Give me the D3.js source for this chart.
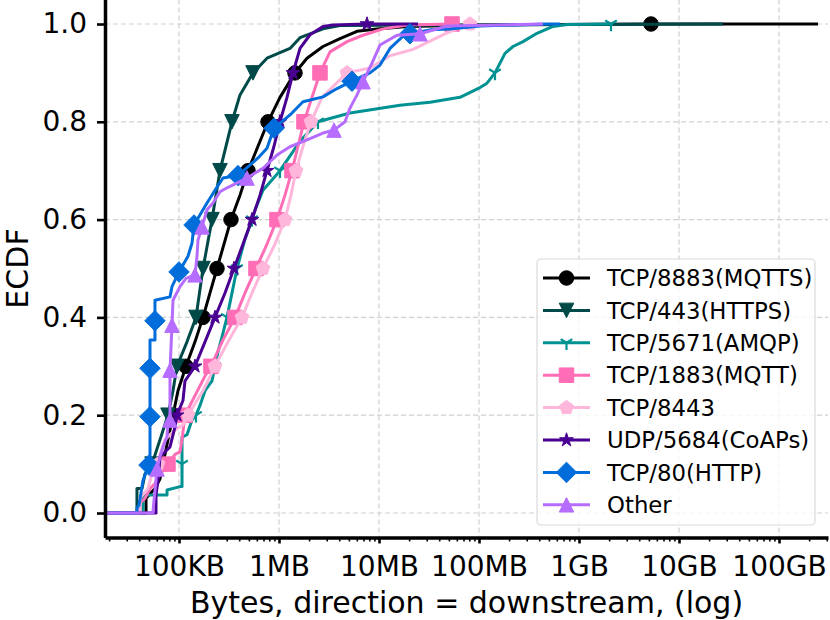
<!DOCTYPE html>
<html>
<head>
<meta charset="utf-8">
<script src="https://cdn.jsdelivr.net/npm/d3@7"></script>
<style>
  body { margin: 0; background: #fff; }
</style>
</head>
<body>
<div id="chart"></div>
<script>
// x values are in KB (1 MB = 1000 KB), y values are the ECDF
var categories = ['TCP/8883(MQTTS)', 'TCP/443(HTTPS)', 'TCP/5671(AMQP)', 'TCP/1883(MQTT)',
                  'TCP/8443', 'UDP/5684(CoAPs)', 'TCP/80(HTTP)', 'Other'];

var ecdf_mqtts = [[18.2,0],[46.8,0],[46.8,0.03],[57.5,0.05],[64.6,0.07],[69.2,0.1],[74.1,0.13],[87.1,0.2],
    [97.7,0.25],[117.5,0.3],[144.5,0.35],[173.8,0.4],[204.2,0.45],[239.9,0.5],[281.8,0.55],[331.1,0.6],
    [407.4,0.65],[489.8,0.7],[616.6,0.75],[776.2,0.8],[1023,0.85],[1445,0.9],[1905,0.93],[2754,0.954],
    [4074,0.97],[6026,0.985],[9550,0.99],[19055,0.995],[102329,0.998],[5248000,1],[245500000,1]];
var marks_mqtts = [0.1,0.2,0.3,0.4,0.5,0.6,0.7,0.8,0.9,1];

var ecdf_https = [[18.2,0],[38,0],[38,0.05],[42.7,0.05],[45.7,0.08],[53.7,0.1],[64.6,0.15],[77.6,0.2],
    [87.1,0.25],[95.5,0.3],[120.2,0.35],[147.9,0.4],[173.8,0.5],[213.8,0.6],[257,0.7],[338.8,0.8],
    [407.4,0.855],[549.5,0.9],[758.6,0.93],[1288,0.95],[1622,0.972],[2042,0.98],[2754,0.99],[4074,0.997],
    [27540000,1]];
var marks_https = [0.1,0.2,0.3,0.4,0.5,0.6,0.7,0.8,0.9];

var ecdf_amqp = [[18.2,0],[43.7,0],[43.7,0.037],[75.9,0.037],[75.9,0.047],[102.3,0.054],[107.2,0.054],
    [107.2,0.1],[107.2,0.155],[120.2,0.16],[134.9,0.19],[147.9,0.2],[162.2,0.22],[182,0.25],[213.8,0.27],
    [229.1,0.3],[245.5,0.33],[269.2,0.36],[302,0.4],[380.2,0.5],[457.1,0.56],[537,0.6],[575.4,0.62],
    [691.8,0.66],[1023,0.7],[1622,0.76],[2455,0.8],[5129,0.818],[16218,0.834],[32359,0.84],[64565,0.85],
    [102329,0.87],[120226,0.879],[144544,0.9],[181970,0.94],[218776,0.954],[275423,0.964],[380189,0.981],
    [549541,0.995],[758578,0.999],[2089000,1],[2188000,1]];
var marks_amqp = [0.1,0.2,0.3,0.4,0.5,0.6,0.7,0.8,0.9,1];

var ecdf_mqtt = [[18.2,0],[40.7,0],[40.7,0.02],[45.7,0.03],[51.3,0.05],[57.5,0.06],[64.6,0.08],[72.4,0.09],
    [77.6,0.1],[91.2,0.12],[102.3,0.125],[107.2,0.15],[114.8,0.2],[144.5,0.24],[182,0.28],[208.9,0.3],
    [269.2,0.35],[363.1,0.4],[457.1,0.45],[588.8,0.5],[758.6,0.55],[955,0.6],[1148,0.65],[1349,0.7],
    [1549,0.75],[1778,0.8],[2138,0.85],[2570,0.9],[3236,0.943],[4786,0.964],[6918,0.977],[10965,0.99],
    [19055,0.998],[53703,1],[57544,1]];
var marks_mqtt = [0.1,0.2,0.3,0.4,0.5,0.6,0.7,0.8,0.9,1];

var ecdf_8443 = [[18.2,0],[40.7,0],[40.7,0.03],[49,0.05],[53.7,0.08],[61.7,0.1],[64.6,0.12],[72.4,0.15],
    [91.2,0.17],[109.6,0.18],[123,0.2],[173.8,0.25],[229.1,0.3],[309,0.35],[426.6,0.4],[537,0.45],
    [691.8,0.5],[912,0.55],[1148,0.6],[1318,0.65],[1479,0.7],[1738,0.75],[2089,0.8],[2692,0.85],[4786,0.9],
    [8128,0.91],[12882,0.935],[21878,0.948],[33884,0.967],[45709,0.98],[60256,0.99],[81283,1],[93325,1]];
var marks_8443 = [0.1,0.2,0.3,0.4,0.5,0.6,0.7,0.8,0.9,1];

var ecdf_coaps = [[18.2,0],[58.9,0],[58.9,0.037],[61.7,0.067],[64.6,0.115],[81.3,0.135],[91.2,0.176],
    [95.5,0.2],[109.6,0.23],[114.8,0.27],[144.5,0.3],[182,0.35],[229.1,0.4],[288.4,0.45],[354.8,0.5],
    [436.5,0.55],[537,0.6],[645.7,0.65],[758.6,0.7],[891.3,0.75],[1023,0.8],[1202,0.85],[1380,0.9],
    [1622,0.95],[2042,0.978],[2754,0.995],[3467,0.998],[7586,1],[24547,1]];
var marks_coaps = [0.2,0.3,0.4,0.5,0.6,0.7,0.8,0.9,1];

var ecdf_http = [[18.2,0],[38,0],[38,0.01],[39.8,0.016],[43.7,0.067],[47.9,0.088],[50.1,0.098],[51.3,0.105],
    [51.3,0.197],[51.3,0.296],[51.3,0.354],[57.5,0.354],[57.5,0.393],[57.5,0.435],[81.3,0.442],[85.1,0.463],
    [100,0.493],[123,0.525],[134.9,0.552],[141.3,0.589],[190.5,0.634],[229.1,0.66],[275.4,0.685],[389,0.69],
    [616.6,0.726],[758.6,0.746],[891.3,0.787],[1288,0.814],[1738,0.841],[2754,0.851],[3802,0.868],
    [5370,0.883],[8128,0.9],[10233,0.916],[12882,0.95],[17378,0.975],[20417,0.98],[32359,0.988],
    [51286,0.99],[102329,0.996],[478630,1],[645654,1]];
var marks_http = [0.098,0.197,0.296,0.393,0.493,0.589,0.69,0.787,0.883,0.98];

var ecdf_other = [[18.2,0],[55,0],[55,0.005],[57.5,0.045],[60.3,0.09],[64.6,0.115],[69.2,0.135],[75.9,0.156],
    [77.6,0.184],[81.3,0.19],[81.3,0.292],[85.1,0.384],[87.1,0.435],[102.3,0.463],[117.5,0.48],[144.5,0.487],
    [151.4,0.525],[154.9,0.558],[169.8,0.585],[190.5,0.62],[218.8,0.634],[257,0.657],[302,0.665],
    [478.6,0.685],[691.8,0.705],[955,0.732],[1288,0.749],[1905,0.763],[2754,0.777],[3548,0.783],
    [4571,0.8],[5129,0.828],[6026,0.855],[6918,0.882],[8511,0.92],[10233,0.957],[15136,0.977],
    [25704,0.98],[47863,0.996],[436516,1]];
var marks_other = [0.09,0.19,0.292,0.384,0.487,0.585,0.685,0.783,0.882,0.98];

var x_major = [100, 1e3, 1e4, 1e5, 1e6, 1e7, 1e8];
var x_labels = ['100KB', '1MB', '10MB', '100MB', '1GB', '10GB', '100GB'];
var y_ticks = [0, 0.2, 0.4, 0.6, 0.8, 1.0];
var x_min = 18.2, x_max = 3.09e8;

var curves = [ecdf_mqtts, ecdf_https, ecdf_amqp, ecdf_mqtt, ecdf_8443, ecdf_coaps, ecdf_http, ecdf_other];
var curve_marks = [marks_mqtts, marks_https, marks_amqp, marks_mqtt, marks_8443, marks_coaps, marks_http, marks_other];

// styles
var colors = ['#000000', '#004949', '#009292', '#ff6db6', '#ffb6db', '#490092', '#006ddb', '#b66dff'];
var shapes = ['o', 'v', '1', 's', 'p', '*', 'D', '^'];

var width = 830, height = 620;
var ms = 14.5;
var lw = 3;

var svg = d3.select('#chart')
    .append('svg')
    .attr('width', width)
    .attr('height', height)
    .style('font-family', 'DejaVu Sans, sans-serif');

var x = d3.scaleLog().domain([x_min, x_max]).range([105, 828]);
var y = d3.scaleLinear().domain([-0.05, 1.05]).range([537.45, -0.45]);

// minor ticks 2..9 per decade
var x_minor = [];
for (var e = 1; e <= 8; e++) {
    for (var k = 2; k <= 9; k++) {
        var v = k * Math.pow(10, e);
        if (v >= x_min && v <= x_max) x_minor.push(v);
    }
}

// grid
var grid = svg.append('g').attr('class', 'grid');
grid.selectAll('line.vx')
    .data(x_major)
    .enter()
    .append('line')
    .attr('x1', function(d) { return x(d); })
    .attr('x2', function(d) { return x(d); })
    .attr('y1', y.range()[1])
    .attr('y2', y.range()[0]);
grid.selectAll('line.hy')
    .data(y_ticks)
    .enter()
    .append('line')
    .attr('x1', x.range()[0])
    .attr('x2', x.range()[1])
    .attr('y1', function(d) { return y(d); })
    .attr('y2', function(d) { return y(d); });
grid.selectAll('line')
    .attr('stroke', '#d0d0d0')
    .attr('stroke-width', 1.2)
    .attr('stroke-dasharray', '5,3');

function marker_path(shape, m) {
    var r = m / 2;
    if (shape === 'o') return d3.symbol().type(d3.symbolCircle).size(Math.PI * r * r)();
    if (shape === 'v') return `M0,${r}L${-r},${-r}L${r},${-r}Z`;
    if (shape === '^') return `M0,${-r}L${-r},${r}L${r},${r}Z`;
    if (shape === 's') return `M${-r},${-r}H${r}V${r}H${-r}Z`;
    if (shape === 'D') { var q = r * Math.SQRT2; return `M0,${-q}L${q},0L0,${q}L${-q},0Z`; }
    if (shape === '1') return `M0,0L0,${r}M0,0L${0.8 * r},${-0.5 * r}M0,0L${-0.8 * r},${-0.5 * r}`;
    if (shape === 'p' || shape === '*') {
        var pts = [];
        var n = shape === 'p' ? 5 : 10;
        for (var i = 0; i < n; i++) {
            var a = -Math.PI / 2 + i * 2 * Math.PI / n;
            var rr = (shape === '*' && i % 2 === 1) ? r * 0.381966 : r;
            pts.push([rr * Math.cos(a), rr * Math.sin(a)]);
        }
        return 'M' + pts.map(function(p) { return p[0].toFixed(2) + ',' + p[1].toFixed(2); }).join('L') + 'Z';
    }
}

function style_marker(sel, i) {
    if (shapes[i] === '1') {
        sel.attr('fill', 'none').attr('stroke', colors[i]).attr('stroke-width', 2.2);
    } else {
        sel.attr('fill', colors[i]).attr('stroke', colors[i]).attr('stroke-width', 1);
    }
}

var line = d3.line()
    .x(function(d) { return x(d[0]); })
    .y(function(d) { return y(d[1]); });

var plot = svg.append('g').attr('class', 'curves');

curves.forEach(function(pts, i) {
    var g = plot.append('g');
    g.append('path')
        .datum(pts)
        .attr('d', line)
        .attr('fill', 'none')
        .attr('stroke', colors[i])
        .attr('stroke-width', lw)
        .attr('stroke-linejoin', 'round');

    var marker_pts = curve_marks[i].map(function(lv) {
        return pts.find(function(p) { return Math.abs(p[1] - lv) < 1e-9; });
    });
    g.selectAll('path.mk')
        .data(marker_pts)
        .enter()
        .append('path')
        .attr('class', 'mk')
        .attr('d', marker_path(shapes[i], ms))
        .attr('transform', function(d) { return `translate(${x(d[0])},${y(d[1])})`; })
        .call(style_marker, i);
});

// axes
var x_axis = svg.append('g')
    .attr('transform', `translate(0,${y.range()[0]})`)
    .call(d3.axisBottom(x).tickValues(x_major)
        .tickFormat(function(d, i) { return x_labels[i]; })
        .tickSize(6).tickSizeOuter(0).tickPadding(13));
var x_minor_axis = svg.append('g')
    .attr('transform', `translate(0,${y.range()[0]})`)
    .call(d3.axisBottom(x).tickValues(x_minor).tickFormat('').tickSize(4).tickSizeOuter(0));
x_minor_axis.select('.domain').remove();
x_minor_axis.selectAll('line').attr('stroke-width', 1.6);

var y_axis = svg.append('g')
    .attr('transform', `translate(${x.range()[0]},0)`)
    .call(d3.axisLeft(y).tickValues(y_ticks).tickFormat(d3.format('.1f'))
        .tickSize(8).tickSizeOuter(0).tickPadding(10));

[x_axis, y_axis].forEach(function(ax) {
    ax.select('.domain').attr('stroke-width', 3.5);
    ax.selectAll('.tick line').attr('stroke-width', 2.6);
    ax.selectAll('text')
        .attr('font-family', 'DejaVu Sans, sans-serif')
        .attr('font-size', '28px')
        .attr('fill', '#000');
});

svg.append('text')
    .attr('x', (x.range()[0] + x.range()[1]) / 2)
    .attr('y', 613)
    .attr('text-anchor', 'middle')
    .style('font-size', '30px')
    .text('Bytes, direction = downstream, (log)');

svg.append('text')
    .attr('transform', `translate(28,${(y.range()[0] + y.range()[1]) / 2}) rotate(-90)`)
    .attr('text-anchor', 'middle')
    .style('font-size', '30px')
    .text('ECDF');

// legend
var legend = svg.append('g').attr('transform', 'translate(537,259)');
legend.append('rect')
    .attr('width', 278)
    .attr('height', 266)
    .attr('rx', 4)
    .attr('fill', '#fff')
    .attr('fill-opacity', 0.8)
    .attr('stroke', '#d9d9d9')
    .attr('stroke-width', 1.2);

var rows = legend.selectAll('g.row')
    .data(categories)
    .enter()
    .append('g')
    .attr('class', 'row')
    .attr('transform', function(d, i) { return `translate(0,${19 + i * 32.4})`; });

rows.append('line')
    .attr('x1', 6).attr('x2', 53)
    .attr('stroke', function(d, i) { return colors[i]; })
    .attr('stroke-width', lw);
rows.each(function(d, i) {
    d3.select(this).append('path')
        .attr('d', marker_path(shapes[i], ms))
        .attr('transform', 'translate(29.5,0)')
        .call(style_marker, i);
});
rows.append('text')
    .attr('x', 70)
    .attr('dy', '0.36em')
    .style('font-size', '22.8px')
    .text(function(d) { return d; });
</script>
</body>
</html>
